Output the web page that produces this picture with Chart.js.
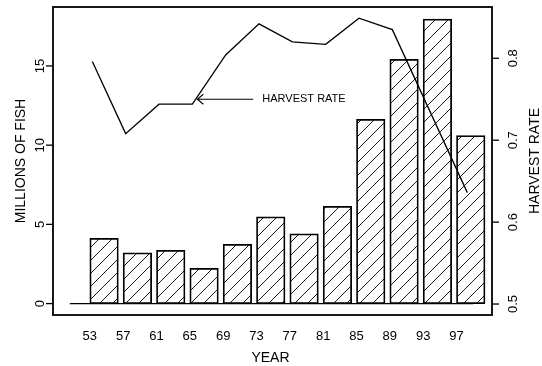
<!DOCTYPE html>
<html>
<head>
<meta charset="utf-8">
<script src="https://cdn.jsdelivr.net/npm/chart.js@4/dist/chart.umd.min.js"></script>
<style>
  html, body { margin: 0; padding: 0; background: #fff; }
  #wrap { width: 542px; height: 366px; }
</style>
</head>
<body>
<div id="wrap"><canvas id="c" width="542" height="366"></canvas></div>
<script>
// Catch (millions of fish) by year, with the harvest rate overlaid
const years = [53, 57, 61, 65, 69, 73, 77, 81, 85, 89, 93, 97];
const millionsOfFish = [4.12, 3.21, 3.36, 2.23, 3.74, 5.48, 4.41, 6.14, 11.63, 15.42, 17.96, 10.6];
const rateYears = [53, 57, 61, 65, 69, 73, 77, 81, 85, 89, 98];
const harvestRate = [0.796, 0.708, 0.744, 0.744, 0.804, 0.842, 0.820, 0.817, 0.849, 0.835, 0.636];
const fishTicks = [0, 5, 10, 15];
const rateTicks = [0.5, 0.6, 0.7, 0.8];

const FONT = '"Liberation Sans", Arial, Helvetica, sans-serif';

// diagonal hatch fill for the bars
function hatchPattern(ctx) {
  const s = 13;
  const t = document.createElement('canvas');
  t.width = s; t.height = s;
  const g = t.getContext('2d');
  g.strokeStyle = '#000';
  g.lineWidth = 0.9;
  g.beginPath();
  g.moveTo(0, s); g.lineTo(s, 0);
  g.moveTo(-2, 2); g.lineTo(2, -2);
  g.moveTo(s - 2, s + 2); g.lineTo(s + 2, s - 2);
  g.stroke();
  return ctx.createPattern(t, 'repeat');
}

const canvas = document.getElementById('c');
const ctx0 = canvas.getContext('2d');

// axis frame, ticks, labels, baseline and the rate annotation
const decorations = {
  id: 'decorations',
  beforeDatasetsDraw(chart) {
    const { ctx, scales } = chart;
    const x = scales.x, y = scales.y;
    const y0 = y.getPixelForValue(0);
    ctx.save();
    ctx.strokeStyle = '#000';
    ctx.lineWidth = 1.2;
    ctx.beginPath();
    ctx.moveTo(x.getPixelForValue(years[0] - 2.4), y0);
    ctx.lineTo(x.getPixelForValue(years[years.length - 1] + 2), y0);
    ctx.stroke();
    ctx.restore();
  },
  afterDraw(chart) {
    const { ctx, chartArea: a, scales } = chart;
    const x = scales.x, y = scales.y, y2 = scales.y2, x2 = scales.x2;
    ctx.save();
    ctx.strokeStyle = '#000';
    ctx.fillStyle = '#000';

    // frame
    ctx.lineWidth = 1.8;
    ctx.strokeRect(a.left, a.top, a.right - a.left, a.bottom - a.top);

    ctx.lineWidth = 1.3;
    ctx.font = '13px ' + FONT;
    ctx.textAlign = 'center';
    ctx.textBaseline = 'middle';

    // left axis
    fishTicks.forEach(v => {
      const py = y.getPixelForValue(v);
      ctx.beginPath(); ctx.moveTo(a.left - 7, py); ctx.lineTo(a.left, py); ctx.stroke();
      ctx.save(); ctx.translate(40, py); ctx.rotate(-Math.PI / 2);
      ctx.fillText(String(v), 0, 0); ctx.restore();
    });
    // right axis
    rateTicks.forEach(v => {
      const py = y2.getPixelForValue(v);
      ctx.beginPath(); ctx.moveTo(a.right, py); ctx.lineTo(a.right + 7, py); ctx.stroke();
      ctx.save(); ctx.translate(513, py); ctx.rotate(-Math.PI / 2);
      ctx.fillText(v.toFixed(1), 0, 0); ctx.restore();
    });
    // year labels
    years.forEach(v => {
      ctx.fillText(String(v), x.getPixelForValue(v), 336);
    });

    // axis titles
    ctx.font = '14px ' + FONT;
    const midY = (a.top + a.bottom) / 2;
    ctx.fillText('YEAR', (a.left + a.right) / 2 - 2, 358);
    ctx.save(); ctx.translate(21, midY); ctx.rotate(-Math.PI / 2);
    ctx.fillText('MILLIONS OF FISH', 0, 0); ctx.restore();
    ctx.save(); ctx.translate(535, midY); ctx.rotate(-Math.PI / 2);
    ctx.fillText('HARVEST RATE', 0, 0); ctx.restore();

    // annotation arrow pointing at the rate line
    const tipX = x2.getPixelForValue(65.6), tailX = x2.getPixelForValue(72.3);
    const ay = y2.getPixelForValue(0.750);
    ctx.lineWidth = 1.1;
    ctx.beginPath();
    ctx.moveTo(tailX, ay); ctx.lineTo(tipX, ay);
    ctx.moveTo(tipX + 6, ay - 5); ctx.lineTo(tipX, ay); ctx.lineTo(tipX + 6, ay + 5);
    ctx.stroke();
    ctx.font = '11px ' + FONT;
    ctx.textAlign = 'left';
    ctx.fillText('HARVEST RATE', x2.getPixelForValue(73.4), ay);
    ctx.restore();
  }
};

const xMin = years[0] - 4.42;
const xMax = xMin + 52.68;
const shift = 0.3;

new Chart(ctx0, {
  data: {
    datasets: [
      {
        type: 'line',
        data: rateYears.map((v, i) => ({ x: v, y: harvestRate[i] })),
        xAxisID: 'x2',
        yAxisID: 'y2',
        borderColor: '#000',
        borderWidth: 1.3,
        pointRadius: 0,
        tension: 0,
        fill: false,
        order: 0
      },
      {
        type: 'bar',
        data: years.map((v, i) => ({ x: v, y: millionsOfFish[i] })),
        xAxisID: 'x',
        yAxisID: 'y',
        backgroundColor: hatchPattern(ctx0),
        borderColor: '#000',
        borderWidth: 1.1,
        borderSkipped: false,
        barThickness: 28.5,
        order: 1
      }
    ]
  },
  options: {
    responsive: false,
    animation: false,
    events: [],
    layout: { padding: { left: 53, right: 50, top: 7, bottom: 51 } },
    plugins: { legend: { display: false }, tooltip: { enabled: false } },
    scales: {
      x: { type: 'linear', display: false, offset: false, min: xMin, max: xMax },
      x2: { type: 'linear', display: false, offset: false, min: xMin - shift, max: xMax - shift },
      y: { type: 'linear', display: false, min: -0.72, max: 18.72 },
      y2: { type: 'linear', display: false, min: 0.4866, max: 0.8626 }
    }
  },
  plugins: [decorations]
});
</script>
</body>
</html>
